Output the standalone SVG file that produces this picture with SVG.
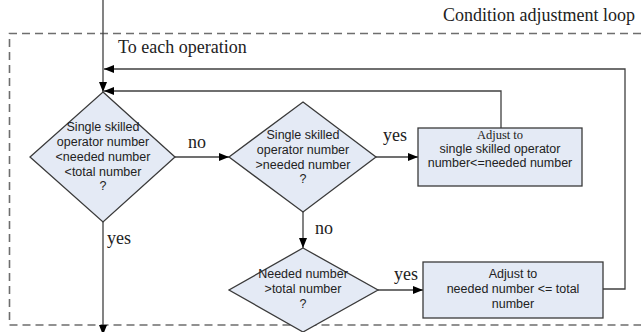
<svg xmlns="http://www.w3.org/2000/svg" width="641" height="332" viewBox="0 0 641 332">
  <defs>
    <marker id="arrow" viewBox="0 0 10 8" refX="10" refY="4" markerWidth="10" markerHeight="8" markerUnits="userSpaceOnUse" orient="auto">
      <path d="M0,0 L10,4 L0,8 Z" fill="#000"/>
    </marker>
    <style>
      .shape { fill: #e4eaf5; stroke: #3a3a3a; stroke-width: 1.3; }
      .conn { fill: none; stroke: #404040; stroke-width: 1.3; marker-end: url(#arrow); }
      .line { fill: none; stroke: #404040; stroke-width: 1.3; }
      .loop { fill: none; stroke: #6e6e6e; stroke-width: 1.6; stroke-dasharray: 8 5; }
      .sans { font-family: "Liberation Sans", Arial, sans-serif; font-size: 12.5px; fill: #222; text-anchor: middle; }
      .serif { font-family: "Liberation Serif", "Times New Roman", serif; font-size: 18px; fill: #222; }
      .small-serif { font-family: "Liberation Serif", "Times New Roman", serif; font-size: 12.5px; fill: #222; text-anchor: middle; }
    </style>
  </defs>

  <rect width="641" height="332" fill="#fff"/>

  <!-- condition adjustment loop boundary -->
  <g id="loop-frame">
    <path class="loop" d="M641,33.5 H9.5 V325 H641"/>
    <text class="serif" x="443" y="21">Condition adjustment loop</text>
    <text class="serif" x="118" y="53">To each operation</text>
  </g>

  <!-- connectors -->
  <g id="connectors">
    <path class="conn" d="M103,0 V92"/>
    <path class="conn" d="M603,289 H625 V69 H104"/>
    <path class="conn" d="M501,128 V91 H104"/>
    <path class="conn" d="M175,157 H229"/>
    <path class="conn" d="M376,157 H418"/>
    <path class="conn" d="M303,212 V248"/>
    <path class="conn" d="M378,290 H423"/>
    <path class="conn" d="M103,222 V335"/>
    <text class="serif" x="188" y="148">no</text>
    <text class="serif" x="383" y="141">yes</text>
    <text class="serif" x="315" y="234">no</text>
    <text class="serif" x="394" y="280">yes</text>
    <text class="serif" x="107" y="244">yes</text>
  </g>

  <!-- decision: single skilled < needed < total -->
  <g id="check-range">
    <polygon class="shape" points="103,92 175,157 103,222 30,157"/>
    <text class="sans" x="103" y="131">Single skilled</text>
    <text class="sans" x="103" y="146">operator number</text>
    <text class="sans" x="103" y="161">&lt;needed number</text>
    <text class="sans" x="103" y="176">&lt;total number</text>
    <text class="sans" x="103" y="190">?</text>
  </g>

  <!-- decision: single skilled > needed -->
  <g id="check-over-needed">
    <polygon class="shape" points="303,102 376,157 303,212 229,157"/>
    <text class="sans" x="303" y="139">Single skilled</text>
    <text class="sans" x="303" y="154">operator number</text>
    <text class="sans" x="303" y="169">&gt;needed number</text>
    <text class="sans" x="303" y="183">?</text>
  </g>

  <!-- action: reduce single skilled operators -->
  <g id="adjust-single-skilled">
    <rect class="shape" x="418" y="128" width="164" height="58"/>
    <text class="small-serif" x="500" y="139">Adjust to</text>
    <text class="sans" x="500" y="153">single skilled operator</text>
    <text class="sans" x="500" y="167">number&lt;=needed number</text>
  </g>

  <!-- decision: needed > total -->
  <g id="check-needed-total">
    <polygon class="shape" points="303,248 378,290 303,332 229,290"/>
    <text class="sans" x="303" y="278">Needed number</text>
    <text class="sans" x="303" y="293">&gt;total number</text>
    <text class="sans" x="303" y="308">?</text>
  </g>

  <!-- action: reduce needed number -->
  <g id="adjust-needed">
    <rect class="shape" x="423" y="262" width="180" height="56"/>
    <text class="sans" x="513" y="278">Adjust to</text>
    <text class="sans" x="513" y="293">needed number &lt;= total</text>
    <text class="sans" x="513" y="308">number</text>
  </g>
</svg>
